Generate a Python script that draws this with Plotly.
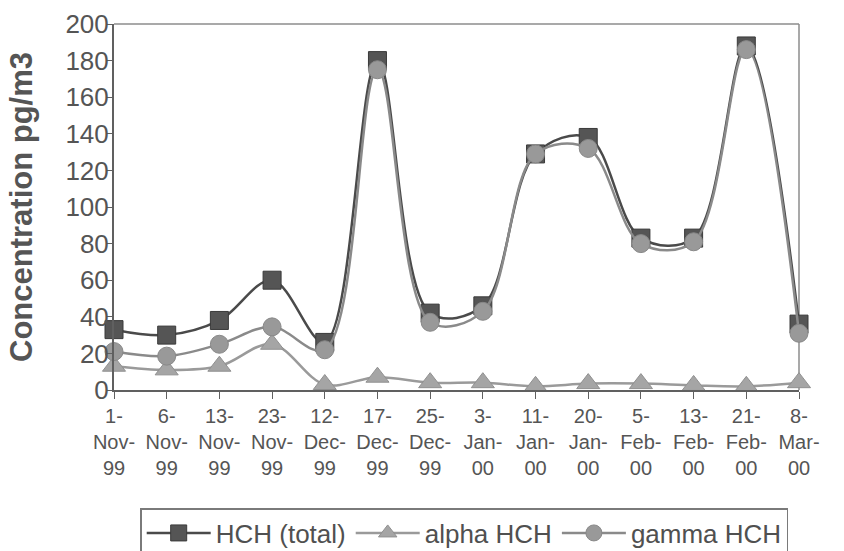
import plotly.graph_objects as go

# Sampling dates (day / month / year), one per column on the x axis
dates = ["1-Nov-99", "6-Nov-99", "13-Nov-99", "23-Nov-99", "12-Dec-99", "17-Dec-99",
         "25-Dec-99", "3-Jan-00", "11-Jan-00", "20-Jan-00", "5-Feb-00", "13-Feb-00",
         "21-Feb-00", "8-Mar-00"]
tick_labels = ["1-<br>Nov-<br>99", "6-<br>Nov-<br>99", "13-<br>Nov-<br>99", "23-<br>Nov-<br>99",
               "12-<br>Dec-<br>99", "17-<br>Dec-<br>99", "25-<br>Dec-<br>99", "3-<br>Jan-<br>00",
               "11-<br>Jan-<br>00", "20-<br>Jan-<br>00", "5-<br>Feb-<br>00", "13-<br>Feb-<br>00",
               "21-<br>Feb-<br>00", "8-<br>Mar-<br>00"]

# Air concentrations, pg/m3
hch_total = [33, 30, 38, 60, 26, 180, 42, 46, 129, 138, 83, 83, 188, 36]
alpha_hch = [13, 11, 13, 25, 3, 7, 4, 4, 2, 3.5, 3.5, 2.5, 2, 4]
gamma_hch = [21, 18.5, 25, 34.5, 22, 175, 37, 43, 129, 132, 80, 81, 186, 31]

x = list(range(len(dates)))

fig = go.Figure()

fig.add_trace(go.Scatter(
    x=x, y=hch_total, name="HCH (total)", mode="lines+markers",
    line=dict(color="#4a4a4a", width=2.5, shape="spline", smoothing=1),
    marker=dict(symbol="square", size=18, color="#555555", line=dict(color="#3a3a3a", width=1)),
    cliponaxis=False,
))
fig.add_trace(go.Scatter(
    x=x, y=alpha_hch, name="alpha HCH", mode="lines+markers",
    line=dict(color="#9a9a9a", width=2.5, shape="spline", smoothing=1),
    marker=dict(symbol="triangle-up", size=20, color="#a5a5a5", line=dict(color="#909090", width=1)),
    cliponaxis=False,
))
fig.add_trace(go.Scatter(
    x=x, y=gamma_hch, name="gamma HCH", mode="lines+markers",
    line=dict(color="#8a8a8a", width=2.5, shape="spline", smoothing=1),
    marker=dict(symbol="circle", size=18, color="#999999", line=dict(color="#888888", width=1)),
    cliponaxis=False,
))

# Light frame along the top and right of the plot area
fig.add_shape(type="line", xref="paper", yref="paper", x0=0, x1=1, y0=1, y1=1,
              line=dict(color="#8c8c8c", width=1.5), layer="below")
fig.add_shape(type="line", xref="paper", yref="paper", x0=1, x1=1, y0=0, y1=1,
              line=dict(color="#8c8c8c", width=1.5), layer="below")

fig.update_layout(
    width=844, height=551,
    margin=dict(l=114, r=45, t=24, b=161, autoexpand=False),
    paper_bgcolor="white", plot_bgcolor="white",
    font=dict(family="Liberation Sans, Arial, sans-serif", color="#505050"),
    showlegend=True,
    legend=dict(
        orientation="h", xref="container", x=0.55, xanchor="center",
        yref="container", y=0.078, yanchor="top",
        bordercolor="#7a7a7a", borderwidth=1.5, font=dict(size=26, color="#505050"),
        itemwidth=64, tracegroupgap=0,
    ),
    xaxis=dict(
        range=[0, 13], tickmode="array", tickvals=x, ticktext=tick_labels,
        showgrid=False, zeroline=False, showline=True, linecolor="#606060", linewidth=2,
        ticks="outside", ticklen=7, tickcolor="#606060",
        tickfont=dict(size=20, color="#555555"),
    ),
    yaxis=dict(
        range=[0, 200], dtick=20, showgrid=False, zeroline=False,
        showline=True, linecolor="#606060", linewidth=2,
        ticks="outside", ticklen=6, tickcolor="#606060", ticklabelstandoff=-8,
        tickfont=dict(size=26, color="#555555"),
        title=dict(text="<b>Concentration pg/m3</b>", font=dict(size=31, color="#555555"), standoff=24),
    ),
)

fig.write_html("out.html")
